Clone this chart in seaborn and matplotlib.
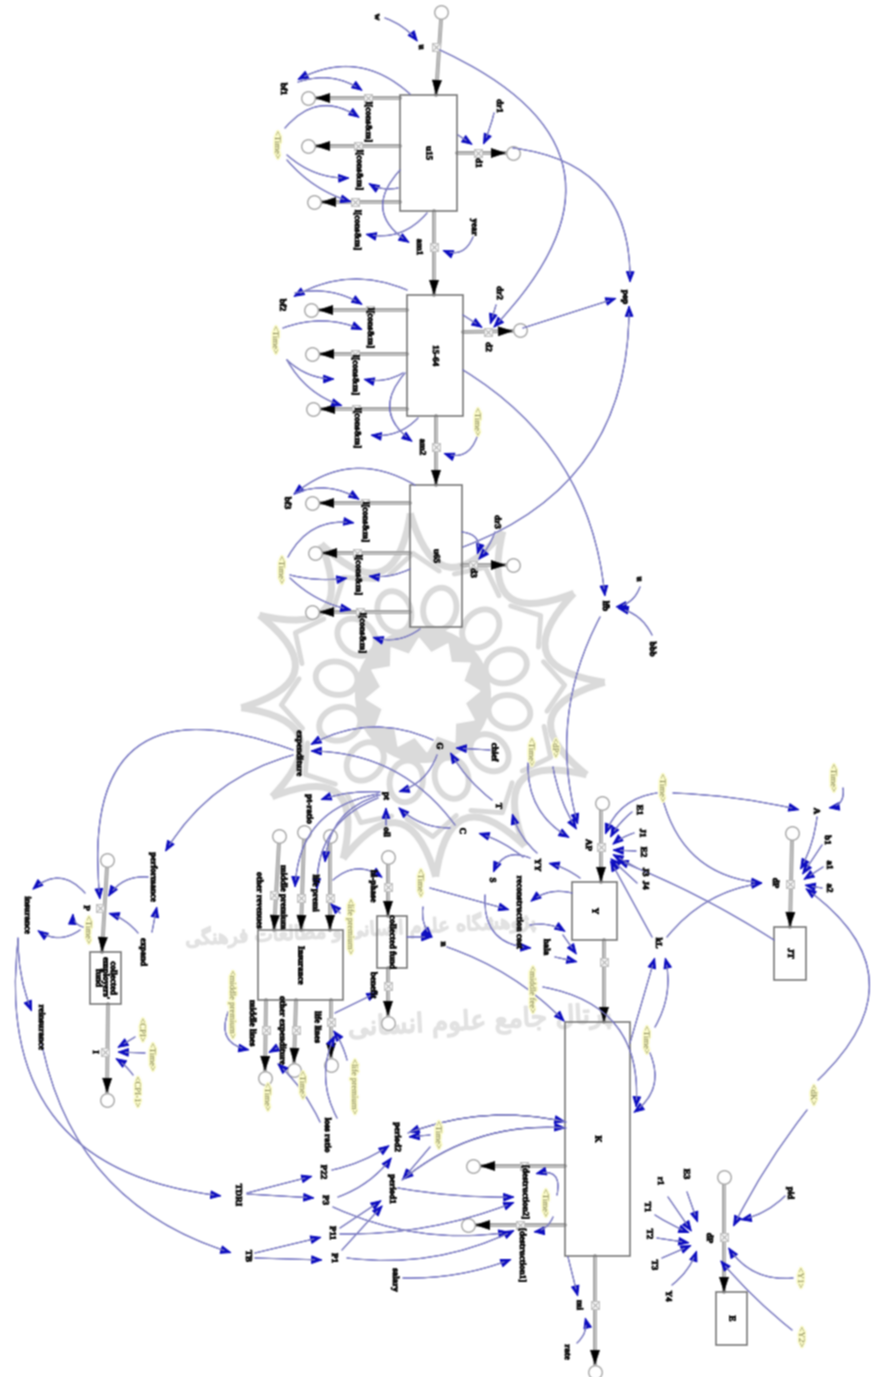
import numpy as np
import pandas as pd
import matplotlib
matplotlib.use('Agg')
import matplotlib.pyplot as plt
from matplotlib.patches import FancyArrowPatch, PathPatch, Rectangle, Circle, Ellipse
from matplotlib.path import Path
import matplotlib.patheffects as pe
import seaborn as sns

# everything is in pixels of the 872x1378 picture, y goes down

# stocks: name, x0, y0, x1, y1
STOCKS = [
    ('u15', 400, 95, 457, 211), ('15-64', 407, 295, 463, 416), ('u65', 410, 485, 462, 627),
    ('Insurance', 258, 930, 343, 1000), ("collected\nemployers'\nfund", 90, 952, 121, 1004),
    ('collected fund', 377, 916, 407, 968), ('Y', 572, 882, 617, 940), ('K', 565, 1022, 630, 1256),
    ('JT', 774, 927, 806, 980), ('E', 716, 1292, 747, 1345),
]

# flows: x0, y0, x1, y1, valve x, valve y
PIPES = [
    (441, 20, 436, 95, 436, 47), (434, 211, 434, 295, 434, 247), (436, 416, 436, 485, 436, 447),
    (400, 98, 315, 98, 368, 98), (400, 146, 315, 146, 358, 146), (400, 202, 321, 202, 355, 202),
    (457, 153, 506, 153, 478, 153),
    (407, 310, 318, 310, 370, 310), (407, 354, 319, 354, 355, 354), (407, 409, 320, 409, 356, 409),
    (463, 332, 513, 331, 488, 332),
    (410, 503, 319, 503, 365, 503), (410, 553, 322, 553, 357, 553), (410, 612, 319, 612, 360, 612),
    (462, 565, 506, 565, 473, 565),
    (107, 867, 102, 952, 100, 908), (108, 1004, 107, 1093, 105, 1052),
    (279, 843, 274, 930, 274, 895), (304, 839, 301, 930, 301, 898), (330, 843, 330, 930, 330, 898),
    (266, 1000, 265, 1071, 266, 1030), (296, 1000, 294, 1063, 296, 1030), (331, 1000, 331, 1058, 331, 1022),
    (388, 864, 388, 916, 388, 887), (388, 968, 388, 1016, 388, 986),
    (601, 810, 601, 882, 601, 847), (604, 940, 604, 1022, 604, 962),
    (792, 840, 790, 927, 790, 884),
    (565, 1166, 480, 1166, 524, 1166), (565, 1225, 475, 1225, 520, 1225),
    (595, 1256, 595, 1365, 595, 1305), (724, 1184, 724, 1292, 724, 1237),
]

# clouds at the open ends of the flows
CLOUDS_X = [441, 308, 308, 314, 513, 311, 312, 313, 520, 312, 315, 312, 513, 107, 107, 279, 304, 330,
            265, 294, 331, 388, 388, 602, 792, 473, 468, 595, 724]
CLOUDS_Y = [12, 98, 146, 202, 153, 310, 354, 409, 330, 503, 553, 612, 565, 860, 1100, 836, 832, 836,
            1078, 1070, 1065, 857, 1023, 803, 833, 1166, 1225, 1372, 1177]

# causal links: x0, y0, x1, y1, curvature
LINKS = [
    (385, 18, 418, 42, -0.15), (440, 50, 493, 328, -0.7), (513, 148, 630, 283, -0.45),
    (463, 547, 629, 305, 0.35), (523, 328, 617, 298, 0), (463, 370, 605, 597, -0.25),
    (640, 587, 615, 607, -0.3), (652, 635, 617, 608, 0.25), (600, 617, 578, 825, 0.2),
    # u15
    (410, 94, 297, 80, 0.35), (298, 82, 363, 91, -0.25), (285, 128, 360, 118, -0.45),
    (287, 155, 350, 178, 0.2), (287, 160, 352, 202, 0.15), (398, 188, 368, 183, -0.2),
    (427, 213, 365, 234, -0.3), (400, 170, 410, 243, 0.6), (473, 237, 442, 250, -0.5),
    (494, 113, 483, 145, -0.05), (458, 135, 473, 145, 0),
    # 15-64
    (407, 290, 293, 297, 0.25), (295, 293, 363, 305, -0.2), (283, 328, 363, 330, -0.2),
    (287, 360, 335, 379, 0.2), (287, 360, 343, 406, 0.2), (403, 373, 363, 379, -0.2),
    (418, 418, 370, 435, -0.25), (405, 373, 413, 442, 0.55), (477, 437, 443, 453, -0.5),
    (496, 305, 490, 325, 0), (463, 315, 483, 328, 0),
    # u65
    (415, 485, 293, 495, 0.35), (295, 493, 360, 500, -0.25), (288, 557, 355, 523, -0.35),
    (290, 575, 348, 578, 0.1), (290, 578, 352, 610, 0.15), (410, 569, 368, 576, -0.15),
    (420, 629, 372, 637, -0.25), (495, 532, 478, 560, -0.1), (462, 532, 477, 555, -0.6),
    # government and insurance
    (433, 740, 310, 745, 0.25), (455, 825, 310, 751, 0.25), (437, 755, 398, 792, -0.25),
    (450, 828, 398, 807, -0.2), (386, 825, 386, 807, 0), (380, 792, 320, 800, 0.1),
    (378, 794, 295, 888, 0.4), (378, 798, 317, 890, 0.35), (380, 795, 325, 863, 0.35),
    (293, 750, 100, 900, 0.8), (293, 755, 165, 852, 0.2), (148, 877, 108, 897, 0.3),
    (152, 932, 157, 906, 0), (138, 933, 108, 913, 0.15), (85, 893, 32, 890, 0.5),
    (80, 930, 37, 930, -0.35), (83, 927, 73, 913, -0.4), (18, 938, 32, 1012, 0.1),
    (18, 940, 222, 1196, 0.5), (41, 1040, 232, 1253, 0.3),
    (135, 1037, 117, 1048, 0), (145, 1053, 117, 1052, 0), (133, 1075, 115, 1058, 0.1),
    (228, 1012, 250, 1050, 0.6), (340, 913, 330, 903, 0), (347, 1060, 333, 1030, 0.1),
    (277, 1048, 268, 1053, 0), (320, 1122, 277, 1063, 0.1), (337, 1118, 335, 1035, -0.25),
    (333, 880, 383, 878, -0.4), (335, 1013, 378, 992, 0), (423, 907, 433, 938, 0.25),
    (407, 937, 433, 937, 0), (447, 947, 565, 1022, -0.12),
    (650, 1053, 633, 1113, -0.4), (543, 987, 636, 1108, -0.45),
    # Y
    (657, 793, 605, 835, 0.3), (673, 793, 800, 810, -0.05), (663, 800, 763, 883, 0.35),
    (843, 788, 828, 808, -0.5), (817, 817, 800, 870, -0.1), (822, 845, 802, 875, 0),
    (823, 867, 803, 880, 0), (822, 888, 804, 885, 0), (667, 937, 763, 883, -0.2),
    (652, 937, 610, 860, 0), (774, 940, 617, 860, 0.05), (630, 1043, 655, 957, 0),
    (655, 1027, 665, 957, 0.2), (818, 1080, 805, 888, 0.6), (807, 1110, 733, 1227, 0.05),
    (632, 812, 610, 838, 0.1), (634, 833, 612, 845, 0.1), (636, 851, 612, 850, 0),
    (637, 868, 612, 854, 0), (637, 883, 610, 858, 0),
    (580, 878, 548, 863, 0.1), (537, 853, 512, 813, -0.15), (492, 800, 450, 752, -0.1),
    (523, 857, 478, 833, 0.1), (530, 858, 493, 873, 0.5), (485, 895, 532, 948, 0.5),
    (572, 893, 530, 902, 0.25), (430, 888, 510, 910, 0), (530, 925, 566, 932, -0.2),
    (555, 957, 578, 962, 0), (563, 935, 577, 955, 0), (490, 750, 455, 748, 0),
    (528, 763, 570, 838, 0.3), (553, 767, 577, 830, 0.1),
    # K
    (247, 1193, 313, 1176, 0), (247, 1194, 315, 1198, 0), (255, 1253, 322, 1237, 0),
    (255, 1258, 323, 1260, 0), (332, 1170, 390, 1145, 0.1), (338, 1197, 392, 1157, 0.15),
    (340, 1228, 382, 1200, 0), (342, 1250, 383, 1205, 0), (430, 1135, 408, 1137, 0),
    (430, 1147, 402, 1180, 0), (566, 1122, 408, 1133, 0.15), (566, 1128, 402, 1180, 0.2),
    (398, 1188, 515, 1197, 0.05), (333, 1207, 510, 1232, 0.15), (340, 1234, 515, 1202, 0.1),
    (347, 1258, 515, 1230, 0.15), (403, 1278, 512, 1259, 0.1), (557, 1195, 535, 1174, 0.8),
    (553, 1217, 533, 1232, -0.3), (568, 1257, 578, 1297, 0), (577, 1343, 585, 1317, 0.3),
    # E
    (687, 1192, 698, 1223, 0), (668, 1197, 692, 1232, 0), (655, 1215, 690, 1233, 0.05),
    (657, 1238, 690, 1243, 0), (662, 1258, 692, 1245, 0), (672, 1285, 697, 1250, 0.15),
    (785, 1196, 740, 1220, -0.15), (793, 1278, 728, 1247, -0.3), (792, 1330, 720, 1260, -0.05),
]
# heads on both ends
BOTH_WAYS = [(566, 1122, 408, 1133, 0.15), (566, 1128, 402, 1180, 0.2)]

VAR_NAMES = [
    'w', 'u', 'bf1', 'dr1', 'd1', 'year', 'am1', 'l[cons&m]', 'l[cons&m]', 'l[cons&m]',
    'bf2', 'dr2', 'd2', 'am2', 'l[cons&m]', 'l[cons&m]', 'l[cons&m]', 'pop',
    'bf3', 'dr3', 'd3', 'l[cons&m]', 'l[cons&m]', 'l[cons&m]', 'lfb', 'u', 'bbb',
    'expenditure', 'G', 'chief', 'pt', 'pt-ratio', 'oil', 'T', 'C', 'YY', 'S',
    'E1', 'J1', 'E2', 'J3', 'J4', 'AP', 'reconstruction cost', 'hala',
    'performance', 'expand', 'P', 'insurance', 'reinsurance', 'I',
    'other revenues', 'middle premium', 'life premi', 'middle lines', 'other expenditure', 'life lines',
    'loss ratio', 'hi-phase', 'benefit', 'n', 'kL', 'dP', 'A', 'b1', 'a1', 'a2',
    'TDRI', 'TB', 'P22', 'P3', 'P11', 'P1', 'period2', 'period1',
    '[destruction2]', '[destruction1]', 'salary', 'mi', 'rate', 'dP',
    'E3', 'r1', 'T1', 'T2', 'T3', 'Y4', 'pid',
]
VAR_X = [
    377, 421, 283, 499, 478, 474, 419, 368, 359, 357,
    282, 499, 488, 422, 370, 355, 357, 625,
    287, 497, 473, 365, 358, 362, 605, 639, 652,
    299, 439, 494, 386, 309, 386, 498, 462, 537, 492,
    639, 642, 643, 645, 645, 588, 519, 546,
    153, 143, 86, 27, 41, 95,
    259, 283, 315, 252, 282, 317,
    327, 373, 373, 443, 658, 775, 816, 827, 829, 829,
    238, 248, 323, 325, 332, 334, 397, 392,
    525, 522, 395, 579, 567, 709,
    686, 660, 647, 649, 654, 668, 790,
]
VAR_Y = [
    17, 47, 89, 106, 163, 227, 247, 122, 170, 230,
    305, 293, 347, 447, 328, 375, 428, 297,
    503, 522, 573, 522, 575, 633, 606, 579, 649,
    753, 746, 752, 796, 809, 832, 806, 831, 865, 880,
    810, 833, 852, 872, 885, 845, 912, 947,
    877, 952, 908, 915, 1027, 1052,
    900, 897, 893, 1023, 1030, 1027,
    1135, 886, 985, 944, 943, 883, 811, 840, 865, 888,
    1195, 1256, 1172, 1200, 1233, 1258, 1137, 1189,
    1192, 1255, 1280, 1305, 1352, 1238,
    1174, 1181, 1207, 1234, 1265, 1296, 1193,
]

# shadow variables, olive with a yellow glow
SHADOW_NAMES = ['<Time>'] * 6 + ['<CPI>', '<Time>', '<CPI-1>', '<middle premium>', '<life premium>',
                '<life premium>', '<Time>', '<Time>', '<Time>', '<middle fee>', '<Time>', '<Time>',
                '<Time>', '<Time>', '<dP>', '<Time>', '<Time>', '<dK>', '<Y1>', '<Y2>']
SHADOW_X = [277, 275, 477, 281, 88, 302, 142, 152, 137, 232, 350, 354, 267, 420, 646, 532, 662, 833,
            531, 438, 555, 545, 438, 813, 800, 801]
SHADOW_Y = [145, 340, 422, 570, 930, 1085, 1030, 1057, 1092, 1005, 927, 1087, 1097, 883, 1040, 990, 788, 778,
            752, 1135, 748, 1203, 1135, 1095, 1278, 1337]

# watermark text, joined letter forms in reading order
WM_LINE1 = ('\ufb58\ufb8b\ufeed\ufeeb\ufeb8\ufb95\ufe8e\ufee9 \ufecb\ufee0\ufeee\ufee1 '
            '\ufe8d\ufee7\ufeb4\ufe8e\ufee7\ufbfd \ufeed '
            '\ufee3\ufec4\ufe8e\ufedf\ufecc\ufe8e\ufe95 \ufed3\ufeae\ufeeb\ufee8\ufb95\ufbfd')
WM_LINE2 = ('\ufb58\ufeae\ufe97\ufe8e\ufedd \ufe9f\ufe8e\ufee3\ufeca '
            '\ufecb\ufee0\ufeee\ufee1 \ufe8d\ufee7\ufeb4\ufe8e\ufee7\ufbfd')

PIPE_COLOR = '#a6a6a6'
LINK_COLOR = '#8c8cc0'
HEAD_COLOR = '#0c0cc0'
WM_COLOR = '#dadada'
LABEL_FONT = ['Liberation Serif', 'DejaVu Serif']
HEAD_PTS = 6

sns.set_theme(style='white')
plt.rcParams['font.family'] = LABEL_FONT

fig = plt.figure(figsize=(8.72, 13.78), dpi=100)
ax = fig.add_axes([0, 0, 1, 1])
ax.set_xlim(0, 872)
ax.set_ylim(1378, 0)
ax.axis('off')


def draw_watermark():
    cx, cy = 423, 695
    tip_ang = np.radians(np.arange(12) * 30 - 4)
    for a in tip_ang:
        b = a + np.radians(30)
        m = a + np.radians(15)
        # concave curves from spike to spike
        verts = [(cx + 182 * np.cos(a), cy + 182 * np.sin(a)),
                 (cx + 85 * np.cos(m), cy + 85 * np.sin(m)),
                 (cx + 182 * np.cos(b), cy + 182 * np.sin(b))]
        ax.add_patch(PathPatch(Path(verts, [Path.MOVETO, Path.CURVE3, Path.CURVE3]), fill=False,
                               ec=WM_COLOR, lw=5, zorder=1))
        # oval between two spikes
        ax.add_patch(Ellipse((cx + 88 * np.cos(m), cy + 88 * np.sin(m)), 42, 33,
                             angle=np.degrees(m), fill=False, ec=WM_COLOR, lw=4.2, zorder=1))
        # bar across the root of each spike
        bar = [(cx + 125 * np.cos(a - 0.2), cy + 125 * np.sin(a - 0.2)),
               (cx + 142 * np.cos(a), cy + 142 * np.sin(a)),
               (cx + 125 * np.cos(a + 0.2), cy + 125 * np.sin(a + 0.2))]
        ax.plot([p[0] for p in bar], [p[1] for p in bar], color=WM_COLOR, lw=3.5, zorder=1)
    # middle flower
    ax.add_patch(Circle((cx, cy), 68, fc=WM_COLOR, ec='none', zorder=1))
    petals = []
    for i in range(24):
        r = 57 if i % 2 == 0 else 43
        ang = np.radians(i * 15 - 4)
        petals.append((cx + r * np.cos(ang), cy + r * np.sin(ang)))
    ax.fill([p[0] for p in petals], [p[1] for p in petals], color='white', zorder=1.1)
    thick = [pe.withStroke(linewidth=1.2, foreground='#e2e2e2')]
    ax.text(362, 930, WM_LINE1[::-1], family='DejaVu Sans', fontsize=14, color='#e2e2e2',
            ha='center', va='center', rotation=3, path_effects=thick, zorder=1.2)
    ax.text(480, 1022, WM_LINE2[::-1], family='DejaVu Sans', fontsize=19, color='#e2e2e2',
            ha='center', va='center', rotation=3, path_effects=thick, zorder=1.2)


def draw_link(x0, y0, x1, y1, rad):
    # rad > 0 bends to the right of the travel direction on the flipped axis
    ax.add_patch(FancyArrowPatch((x0, y0), (x1, y1), connectionstyle=f'arc3,rad={rad}',
                                 arrowstyle='-|>,head_length=1.1,head_width=0.42', mutation_scale=6.5,
                                 shrinkA=0, shrinkB=0, fc=HEAD_COLOR, ec=HEAD_COLOR, lw=0.7, zorder=4))
    # paler line over the head's own stem
    ax.add_patch(FancyArrowPatch((x0, y0), (x1, y1), connectionstyle=f'arc3,rad={rad}',
                                 arrowstyle='-', shrinkA=0, shrinkB=HEAD_PTS,
                                 ec=LINK_COLOR, lw=0.85, zorder=4.1))


draw_watermark()

# flow pipes
pipe_rows = []
for i, p in enumerate(PIPES):
    pipe_rows.append({'pipe': i, 'x': p[0], 'y': p[1]})
    pipe_rows.append({'pipe': i, 'x': p[2], 'y': p[3]})
pipes_df = pd.DataFrame(pipe_rows)
sns.lineplot(data=pipes_df, x='x', y='y', units='pipe', estimator=None, sort=False,
             color=PIPE_COLOR, lw=2.8, ax=ax, legend=False, zorder=2)
sns.lineplot(data=pipes_df, x='x', y='y', units='pipe', estimator=None, sort=False,
             color='#dcdcdc', lw=0.6, ax=ax, legend=False, zorder=2.1)

# black flow heads
for p in PIPES:
    dx, dy = p[2] - p[0], p[3] - p[1]
    n = np.hypot(dx, dy)
    ax.add_patch(FancyArrowPatch((p[2] - 14 * dx / n, p[3] - 14 * dy / n), (p[2], p[3]),
                                 arrowstyle='-|>,head_length=1.0,head_width=0.33', mutation_scale=10,
                                 shrinkA=0, shrinkB=0, fc='black', ec='black', lw=0.4, zorder=3))

# clouds and valves
sns.scatterplot(x=CLOUDS_X, y=CLOUDS_Y, marker='o', s=95, color='white', edgecolor='#a8a8a8',
                linewidth=1.0, ax=ax, legend=False, zorder=3.5)
valve_x = [p[4] for p in PIPES]
valve_y = [p[5] for p in PIPES]
sns.scatterplot(x=valve_x, y=valve_y, marker='s', s=38, color='#f6f6f6', edgecolor='#c0c0c0',
                linewidth=0.7, ax=ax, legend=False, zorder=3.6)
sns.scatterplot(x=valve_x, y=valve_y, marker='x', s=22, color='#b0b0b0', linewidth=0.7,
                ax=ax, legend=False, zorder=3.7)
ax.set_xlim(0, 872)
ax.set_ylim(1378, 0)
ax.axis('off')

heavy = [pe.withStroke(linewidth=0.5, foreground='#0c0c0c')]

# stocks
for name, x0, y0, x1, y1 in STOCKS:
    ax.add_patch(Rectangle((x0, y0), x1 - x0, y1 - y0, fc='none', ec='#707070', lw=1.1, zorder=3.2))
    ax.text((x0 + x1) / 2, (y0 + y1) / 2, name, rotation=-90, fontsize=6.5, fontweight='bold',
            ha='center', va='center', linespacing=0.9, color='#0c0c0c', path_effects=heavy, zorder=6)

for link in LINKS:
    draw_link(*link)
for x0, y0, x1, y1, rad in BOTH_WAYS:
    draw_link(x1, y1, x0, y0, -rad)

for name, x, y in zip(VAR_NAMES, VAR_X, VAR_Y):
    ax.text(x, y, name, rotation=-90, fontsize=6.5, fontweight='bold', ha='center', va='center',
            color='#0c0c0c', path_effects=heavy, zorder=6)

for name, x, y in zip(SHADOW_NAMES, SHADOW_X, SHADOW_Y):
    ax.text(x, y, name, rotation=-90, fontsize=6.3, ha='center', va='center', color='#77774a',
            path_effects=[pe.withStroke(linewidth=2.2, foreground='#fbfbc8')], zorder=6)

# the picture is a soft low-res scan, so soften the render a little
fig.canvas.draw()
img = np.asarray(fig.canvas.buffer_rgba())[:, :, :3].astype(float) / 255
kernel = np.array([0.25, 0.5, 0.25])
for axis in (0, 1):
    img = np.apply_along_axis(lambda v: np.convolve(v, kernel, mode='same'), axis, img)
img[0, :] = img[-1, :] = 1
img[:, 0] = img[:, -1] = 1
plt.imsave('out.png', np.clip(img, 0, 1))
